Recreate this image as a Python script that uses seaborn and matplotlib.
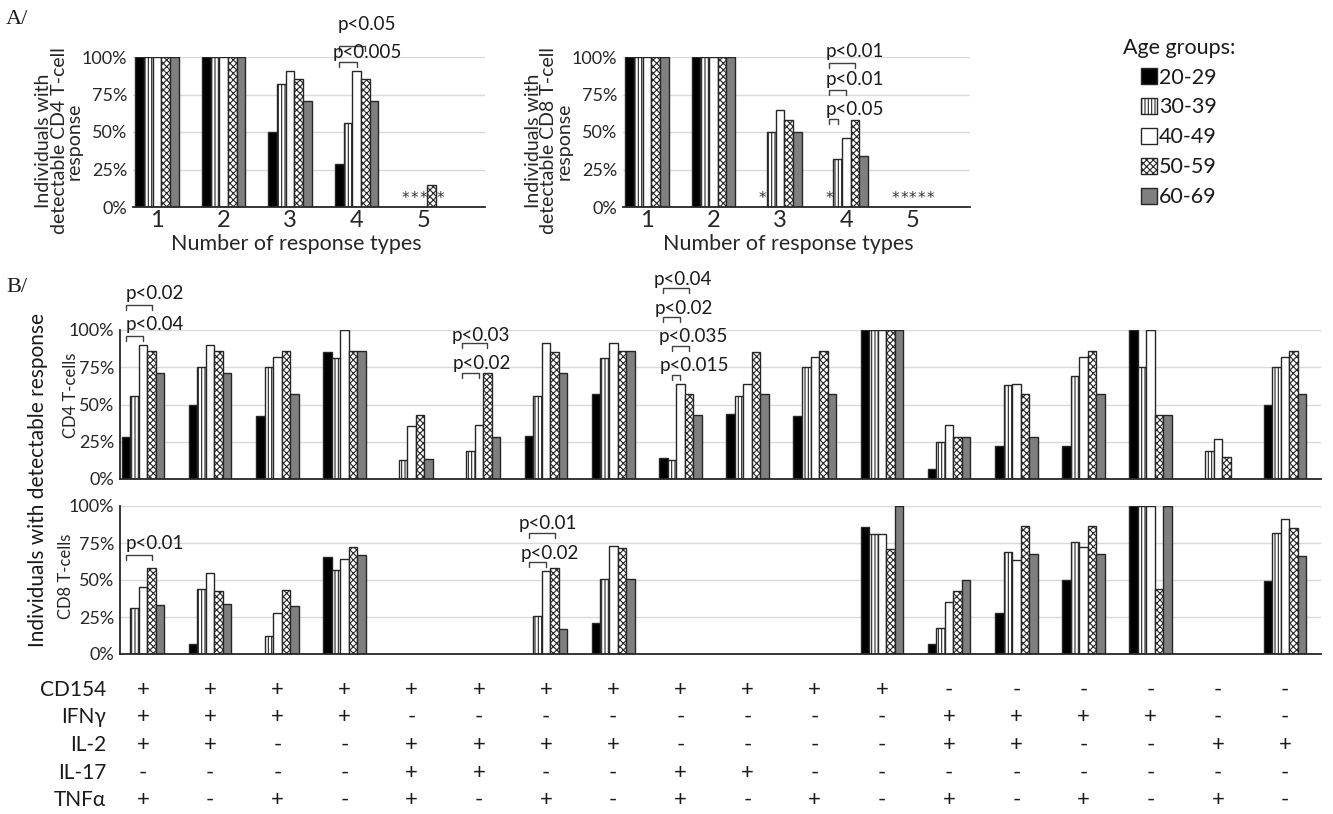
import matplotlib
matplotlib.use('Agg')
import matplotlib.pyplot as plt
from matplotlib.patches import Patch
from matplotlib.transforms import blended_transform_factory
import pandas as pd
import seaborn as sns

ages = ['20-29', '30-39', '40-49', '50-59', '60-69']
n_types = ['1', '2', '3', '4', '5']

# A/ share of individuals vs number of response types (one row per age group)
cd4_by_count = [
    [1.00, 1.00, 0.50, 0.29, 0.00],
    [1.00, 1.00, 0.82, 0.56, 0.00],
    [1.00, 1.00, 0.91, 0.91, 0.00],
    [1.00, 1.00, 0.855, 0.855, 0.145],
    [1.00, 1.00, 0.71, 0.71, 0.00],
]
cd8_by_count = [
    [1.00, 1.00, 0.00, 0.00, 0.00],
    [1.00, 1.00, 0.50, 0.32, 0.00],
    [1.00, 1.00, 0.645, 0.46, 0.00],
    [1.00, 1.00, 0.58, 0.58, 0.00],
    [1.00, 1.00, 0.50, 0.34, 0.00],
]

# B/ 18 cytokine combinations (one row per age group)
combos = ['1', '2', '3', '4', '5', '6', '7', '8', '9', '10',
          '11', '12', '13', '14', '15', '16', '17', '18']
cd4_combo = [
    [0.28, 0.50, 0.42, 0.85, 0.00, 0.00, 0.29, 0.57, 0.14, 0.435, 0.425, 1.00, 0.07, 0.22, 0.22, 1.00, 0.00, 0.50],
    [0.555, 0.75, 0.75, 0.815, 0.125, 0.185, 0.56, 0.81, 0.13, 0.56, 0.75, 1.00, 0.25, 0.63, 0.69, 0.75, 0.19, 0.75],
    [0.90, 0.90, 0.82, 1.00, 0.355, 0.36, 0.91, 0.91, 0.635, 0.64, 0.82, 1.00, 0.365, 0.635, 0.82, 1.00, 0.27, 0.82],
    [0.86, 0.86, 0.86, 0.86, 0.43, 0.71, 0.85, 0.86, 0.57, 0.85, 0.86, 1.00, 0.28, 0.57, 0.86, 0.43, 0.15, 0.86],
    [0.71, 0.71, 0.57, 0.86, 0.135, 0.28, 0.71, 0.86, 0.43, 0.57, 0.57, 1.00, 0.28, 0.28, 0.57, 0.43, 0.00, 0.57],
]
cd8_combo = [
    [0.00, 0.067, 0.00, 0.656, 0.00, 0.00, 0.00, 0.21, 0.00, 0.00, 0.00, 0.86, 0.07, 0.274, 0.50, 1.00, 0.00, 0.49],
    [0.31, 0.44, 0.12, 0.57, 0.00, 0.00, 0.256, 0.506, 0.00, 0.00, 0.00, 0.81, 0.178, 0.69, 0.757, 1.00, 0.00, 0.82],
    [0.454, 0.544, 0.276, 0.64, 0.00, 0.00, 0.56, 0.73, 0.00, 0.00, 0.00, 0.81, 0.35, 0.636, 0.72, 1.00, 0.00, 0.91],
    [0.578, 0.427, 0.43, 0.724, 0.00, 0.00, 0.58, 0.715, 0.00, 0.00, 0.00, 0.71, 0.425, 0.865, 0.865, 0.438, 0.00, 0.85],
    [0.33, 0.34, 0.326, 0.67, 0.00, 0.00, 0.17, 0.506, 0.00, 0.00, 0.00, 1.00, 0.497, 0.674, 0.674, 1.00, 0.00, 0.66],
]

# combination table under panel B
marker_names = ['CD154', 'IFNγ', 'IL-2', 'IL-17', 'TNFα']
cd154 = '++++++++++++------'
ifng = '++++--------++++--'
il2 = '++--++++----++--++'
il17 = '----++--++--------'
tnfa = '+-+-+-+-+-+-+-+-+-'

# significance brackets: (group, age a, age b, bracket y, text y, label, text dx)
a_cd4_marks = [(3, 0, 3, 1.076, 1.217, 'p<0.05', -0.03),
               (3, 0, 2, 0.964, 1.027, 'p<0.005', -0.10)]
a_cd8_marks = [(3, 0, 3, 0.960, 1.038, 'p<0.01', -0.05),
               (3, 0, 2, 0.777, 0.848, 'p<0.01', -0.05),
               (3, 0, 1, 0.585, 0.647, 'p<0.05', -0.05)]
b_cd4_marks = [(0, 0, 3, 1.168, 1.246, 'p<0.02', 0.0),
               (0, 0, 2, 0.960, 1.034, 'p<0.04', 0.0),
               (5, 0, 3, 0.910, 0.966, 'p<0.03', -0.15),
               (5, 0, 2, 0.709, 0.772, 'p<0.02', -0.13),
               (8, 0, 3, 1.280, 1.342, 'p<0.04', -0.15),
               (8, 0, 2, 1.085, 1.145, 'p<0.02', -0.13),
               (8, 1, 3, 0.895, 0.955, 'p<0.035', -0.20),
               (8, 1, 2, 0.698, 0.765, 'p<0.015', -0.18)]
b_cd8_marks = [(0, 0, 3, 0.670, 0.748, 'p<0.01', 0.0),
               (6, 0, 3, 0.820, 0.883, 'p<0.01', -0.15),
               (6, 0, 2, 0.620, 0.680, 'p<0.02', -0.13)]

fills = {'20-29': 'black', '30-39': 'white', '40-49': 'white',
         '50-59': 'white', '60-69': '#7f7f7f'}
hatches = {'20-29': '', '30-39': '|||||', '40-49': '', '50-59': 'xxxxx', '60-69': ''}
edge = '#262626'

sns.set_style('white')
plt.rcParams['font.family'] = ['Lato', 'DejaVu Sans']
plt.rcParams['hatch.linewidth'] = 0.8
plt.rcParams['text.color'] = '#1a1a1a'

W, H = 1333, 814
fig = plt.figure(figsize=(W / 100, H / 100), dpi=100)


def box(x0, x1, y_bot, y_top):
    return [x0 / W, 1 - y_bot / H, (x1 - x0) / W, (y_bot - y_top) / H]


def bars(ax, cats, table, width):
    rows = []
    for i, age in enumerate(ages):
        for j, c in enumerate(cats):
            rows.append({'cat': c, 'age': age, 'val': table[i][j]})
    df = pd.DataFrame(rows)
    sns.barplot(data=df, x='cat', y='val', hue='age', order=cats, hue_order=ages,
                palette=fills, width=width, saturation=1, edgecolor=edge,
                linewidth=1, errorbar=None, legend=False, ax=ax)
    for cont, age in zip(ax.containers, ages):
        for p in cont:
            p.set_hatch(hatches[age])
            if p.get_height() == 0:
                p.set_linewidth(0)
                p.set_hatch('')
    ax.set_ylim(0, 1)
    ax.set_yticks([0, 0.25, 0.5, 0.75, 1.0])
    ax.set_yticklabels(['0%', '25%', '50%', '75%', '100%'], fontsize=13)
    ax.yaxis.grid(True, color='#d9d9d9', lw=1)
    ax.set_axisbelow(True)
    for s in ['top', 'right', 'left']:
        ax.spines[s].set_visible(False)
    ax.spines['bottom'].set_color(edge)
    ax.spines['bottom'].set_linewidth(1.3)
    ax.tick_params(length=0, pad=4)
    ax.set_xlabel('')
    ax.set_ylabel('')


def center(ax, g, a):
    p = ax.containers[a][g]
    return p.get_x() + p.get_width() / 2


def brackets(ax, marks, depth=0.033):
    for g, a, b, yb, yt, label, dx in marks:
        x1, x2 = center(ax, g, a), center(ax, g, b)
        ax.plot([x1, x1, x2, x2], [yb - depth, yb, yb, yb - depth],
                color='#404040', lw=1, clip_on=False)
        ax.text(x1 + dx, yt, label, ha='left', va='center', fontsize=13.5)


def stars(ax, g, which):
    for a in which:
        ax.text(center(ax, g, a), 0.055, '*', ha='center', va='center',
                fontsize=11, color='#333333', family='DejaVu Sans')


# ---- A/ ----
ax1 = fig.add_axes(box(133, 485, 207, 57))
bars(ax1, n_types, cd4_by_count, 0.65)
ax1.set_xlim(-0.361, 4.93)
ax2 = fig.add_axes(box(623, 970, 207, 57))
bars(ax2, n_types, cd8_by_count, 0.65)
ax2.set_xlim(-0.361, 4.86)

for ax, cell, xl in [(ax1, 'CD4', 0.463), (ax2, 'CD8', 0.475)]:
    ax.tick_params(axis='x', labelsize=17, pad=2)
    ax.set_xlabel('Number of response types', fontsize=15.5)
    ax.xaxis.set_label_coords(xl, -0.18)
    ax.set_ylabel('Individuals with\ndetectable %s T-cell\nresponse' % cell,
                  fontsize=14, linespacing=0.88)
ax1.yaxis.set_label_coords(-0.142, 0.44)
ax2.yaxis.set_label_coords(-0.145, 0.44)

brackets(ax1, a_cd4_marks)
brackets(ax2, a_cd8_marks)
stars(ax1, 4, [0, 1, 2, 4])
stars(ax2, 2, [0])
stars(ax2, 3, [0])
stars(ax2, 4, [0, 1, 2, 3, 4])

handles = [Patch(facecolor=fills[a], edgecolor=edge, hatch=hatches[a], lw=1) for a in ages]
fig.legend(handles, ages, title='Age groups:', loc='upper left',
           bbox_to_anchor=(1114 / W, 1 - 29 / H), frameon=False, fontsize=15.5,
           title_fontsize=15.5, handlelength=0.75, handleheight=0.75,
           handletextpad=0.1, labelspacing=0.46, borderaxespad=0)

# ---- B/ ----
ax3 = fig.add_axes(box(120, 1321, 479, 330))
bars(ax3, combos, cd4_combo, 0.635)
ax4 = fig.add_axes(box(120, 1321, 654, 506))
bars(ax4, combos, cd8_combo, 0.635)
for ax, lab, lx, ly in [(ax3, 'CD4 T-cells', -0.034, 0.564),
                        (ax4, 'CD8 T-cells', -0.038, 0.527)]:
    ax.set_xlim(-0.342, 17.535)
    ax.set_xticklabels([])
    ax.spines['left'].set_visible(True)
    ax.spines['left'].set_color(edge)
    ax.spines['left'].set_linewidth(1.3)
    ax.set_ylabel(lab, fontsize=12)
    ax.yaxis.set_label_coords(lx, ly)

brackets(ax3, b_cd4_marks)
brackets(ax4, b_cd8_marks)

fig.text(38 / W, 1 - 480 / H, 'Individuals with detectable response', rotation=90,
         ha='center', va='center', fontsize=15)

# table of cytokine combinations
tr = blended_transform_factory(ax4.transData, fig.transFigure)
row_y = [690, 717, 745, 773, 800]
for name, signs, y in zip(marker_names, [cd154, ifng, il2, il17, tnfa], row_y):
    fig.text(106 / W, 1 - y / H, name, ha='right', va='center', fontsize=15)
    for j, s in enumerate(signs):
        ax4.text(j, 1 - y / H, s, transform=tr, ha='center', va='center',
                 fontsize=16)

fig.text(6 / W, 1 - 19 / H, 'A/', family='Liberation Serif', fontsize=16,
         ha='left', va='center')
fig.text(6 / W, 1 - 288 / H, 'B/', family='Liberation Serif', fontsize=16,
         ha='left', va='center')

fig.savefig('out.png', dpi=100)
